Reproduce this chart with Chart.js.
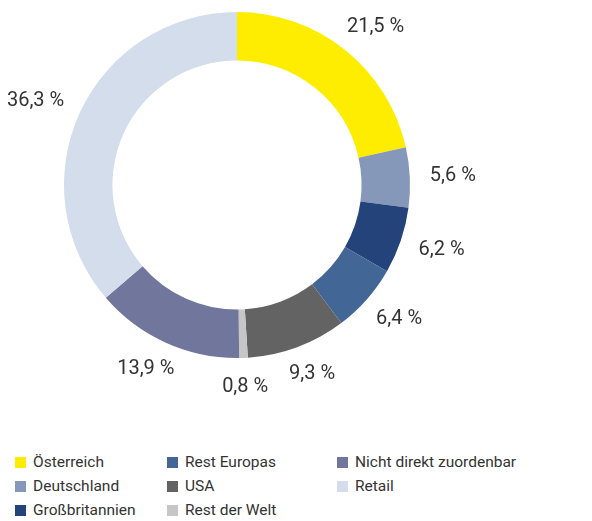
<!DOCTYPE html>
<html>
<head>
<meta charset="utf-8">
<script src="https://cdn.jsdelivr.net/npm/chart.js@4"></script>
<style>
  body { margin: 0; background: #fff; font-family: Roboto, sans-serif; }
  #wrap { position: relative; width: 592px; height: 521px; }
  #chartBox { position: absolute; left: 0; top: 0; width: 592px; height: 400px; }
  #legend { position: absolute; left: 15px; top: 450px; display: grid;
    grid-template-rows: repeat(3, 24px); grid-auto-flow: column;
    grid-template-columns: 152px 170px 240px; font-size: 15.5px; color: #333; }
  #legend div { display: flex; align-items: center; white-space: nowrap; }
  #legend span.box { display: inline-block; width: 11px; height: 11px; margin-right: 7px; }
</style>
</head>
<body>
<div id="wrap">
  <div id="chartBox"><canvas id="donut"></canvas></div>
  <div id="legend"></div>
</div>
<script>
const regions = ['Österreich', 'Deutschland', 'Großbritannien', 'Rest Europas', 'USA', 'Rest der Welt', 'Nicht direkt zuordenbar', 'Retail'];
const shares = [21.5, 5.6, 6.2, 6.4, 9.3, 0.8, 13.9, 36.3];
const colors = ['#FFED00', '#8598BA', '#24437A', '#426796', '#636363', '#C6C6C6', '#70769C', '#D3DDEB'];

// labels outside each slice
const outsideLabels = {
  id: 'outsideLabels',
  afterDatasetsDraw(chart) {
    const ctx = chart.ctx;
    const meta = chart.getDatasetMeta(0);
    ctx.save();
    ctx.font = '20px Roboto, sans-serif';
    ctx.fillStyle = '#333';
    ctx.textAlign = 'center';
    ctx.textBaseline = 'middle';
    meta.data.forEach((arc, i) => {
      const mid = (arc.startAngle + arc.endAngle) / 2;
      const ux = Math.cos(mid), uy = Math.sin(mid);
      const r = arc.outerRadius + 20;
      const txt = shares[i].toFixed(1).replace('.', ',') + ' %';
      const w = ctx.measureText(txt).width;
      const x = arc.x + ux * r + ux * w / 2;
      const y = arc.y + uy * r + uy * 9;
      ctx.fillText(txt, x, y);
    });
    ctx.restore();
  }
};

new Chart(document.getElementById('donut'), {
  type: 'doughnut',
  data: {
    labels: regions,
    datasets: [{
      data: shares,
      backgroundColor: colors,
      borderWidth: 0
    }]
  },
  options: {
    responsive: true,
    maintainAspectRatio: false,
    animation: false,
    cutout: '72%',
    layout: { padding: { left: 0, right: 118, top: 12, bottom: 42 } },
    plugins: {
      legend: { display: false },
      tooltip: { enabled: false }
    }
  },
  plugins: [outsideLabels]
});

const legend = document.getElementById('legend');
regions.forEach((name, i) => {
  const d = document.createElement('div');
  d.innerHTML = '<span class="box" style="background:' + colors[i] + '"></span>' + name;
  legend.appendChild(d);
});
</script>
</body>
</html>
